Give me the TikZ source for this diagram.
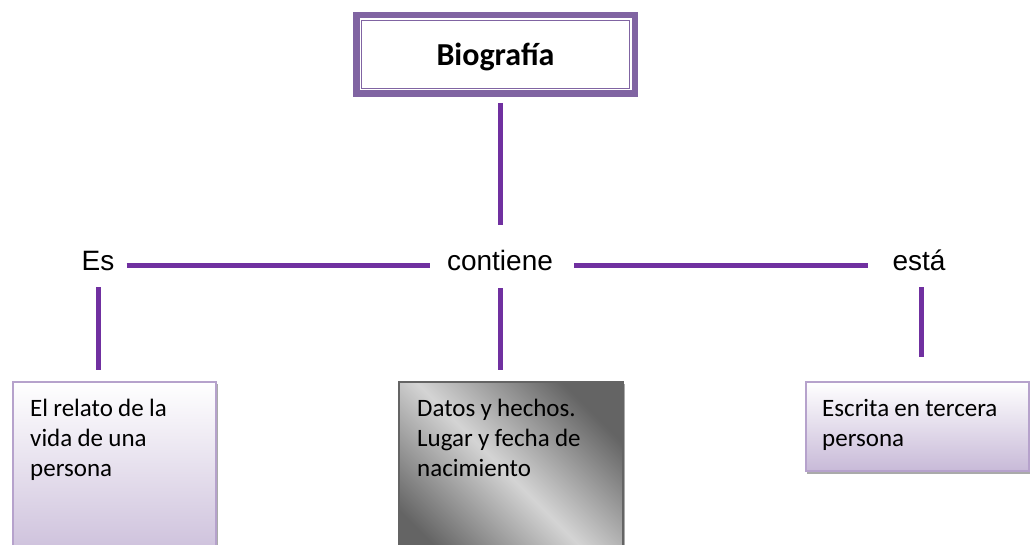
\documentclass[tikz,border=0pt]{standalone}
\usepackage{fontspec}
\setmainfont{Carlito}
\newfontfamily\arialf{Liberation Sans}
\usetikzlibrary{calc}
\definecolor{lineP}{RGB}{112,48,160}
\definecolor{boxP}{RGB}{128,100,162}
\definecolor{lav}{RGB}{200,186,216}
\definecolor{lavedge}{RGB}{182,162,204}
\definecolor{mgd}{RGB}{100,100,100}
\definecolor{mgl}{RGB}{212,212,212}
\definecolor{shad}{RGB}{170,170,170}
\newcommand\myboxspace{\spaceskip=0.21em plus 0.05em\relax}
\tikzset{
  conn/.style={draw=lineP, line width=5pt},
  lab/.style={font=\arialf\fontsize{28}{32}\selectfont, inner sep=0pt, text=black},
  titlebox/.style={draw=boxP, line width=6.5pt, fill=white, minimum width=278.5pt, minimum height=78.5pt,
    font=\bfseries\fontsize{32}{36}\selectfont, inner sep=0pt, text depth=0pt},
  lavbox/.style={draw=lavedge, line width=1.5pt, top color=white, bottom color=lav, anchor=north west, inner sep=0pt},
  greybox/.style={draw=mgd, line width=1.5pt, left color=mgd, right color=mgd, middle color=mgl, shading angle=135, anchor=north west, inner sep=0pt},
  btext/.style={font=\fontsize{25}{30}\selectfont, execute at begin node=\myboxspace, text width=200pt, align=left, anchor=base west, inner sep=0pt},
  shadowbox/.style={fill=shad, draw=none}
}
\begin{document}
\begin{tikzpicture}[x=1pt,y=1pt]
\useasboundingbox (0,0) rectangle (1030,-545);
% title box
\node[titlebox] (bio) at (495.5,-54.5) {Biograf\'ia};
\draw[boxP, line width=1pt] ($(bio.north west)+(5.3,-5.5)$) rectangle ($(bio.south east)+(-5.3,5.5)$);
\draw[boxP, line width=1pt] ($(bio.north west)+(8.3,-8.7)$) rectangle ($(bio.south east)+(-8.3,8.7)$);
% labels
\node[lab, anchor=base] (es) at (98,-271) {Es};
\node[lab, anchor=base] (cont) at (500,-271) {contiene};
\node[lab, anchor=base] (esta) at (919,-271) {está};
% shadows
\fill[shadowbox] (15,-384) rectangle (218,-570);
\fill[shadowbox] (401,-384) rectangle (625,-570);
\fill[shadowbox] (807,-384) rectangle (1031,-474);
% boxes
\node[lavbox, minimum width=203pt, minimum height=190pt] (box1) at (12,-381) {};
\node[greybox, minimum width=224pt, minimum height=190pt] (box2) at (398,-381) {};
\node[lavbox, minimum width=223pt, minimum height=89pt] (box3) at (805,-381) {};
\node[btext] (t1) at ($(box1.north west)+(18,-35)$) {El relato de la\\vida de una\\persona};
\node[btext] (t2) at ($(box2.north west)+(19,-35)$) {Datos y hechos.\\Lugar y fecha de\\nacimiento};
\node[btext] (t3) at ($(box3.north west)+(17,-35)$) {Escrita en tercera\\persona};
% connectors
\draw[conn, shorten <=6pt, shorten >=26pt] (cont.north |- bio.south) -- (cont.north);
\draw[conn, shorten <=12pt, shorten >=17pt] ([yshift=3pt]es.mid east) -- ([yshift=3pt]cont.mid west);
\draw[conn, shorten <=21pt, shorten >=24pt] ([yshift=3pt]cont.mid east) -- ([yshift=3pt]esta.mid west);
\draw[conn, shorten <=16pt, shorten >=11pt] (es.south) -- (es.south |- box1.north);
\draw[conn, shorten <=17pt, shorten >=11pt] (cont.south) -- (cont.south |- box2.north);
\draw[conn, shorten <=16pt, shorten >=24pt] ([xshift=2pt]esta.south) -- ([xshift=2pt]esta.south |- box3.north);
\end{tikzpicture}
\end{document}
